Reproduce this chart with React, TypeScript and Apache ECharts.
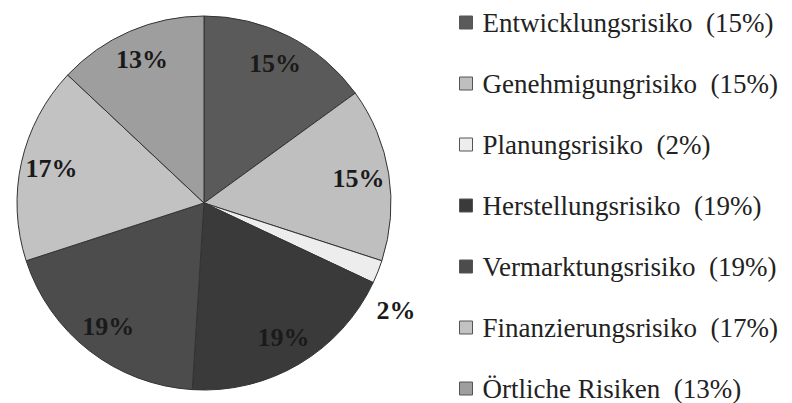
import React, { useEffect, useRef } from "react";
import * as echarts from "echarts";

const categories = [
  "Entwicklungsrisiko",
  "Genehmigungrisiko",
  "Planungsrisiko",
  "Herstellungsrisiko",
  "Vermarktungsrisiko",
  "Finanzierungsrisiko",
  "Örtliche Risiken",
];
const values = [15, 15, 2, 19, 19, 17, 13];
const colors = ["#5a5a5a", "#bfbfbf", "#ededed", "#3a3a3a", "#4c4c4c", "#c2c2c2", "#9e9e9e"];

export default function App() {
  const ref = useRef<HTMLDivElement>(null);
  useEffect(() => {
    if (!ref.current) return;
    const chart = echarts.init(ref.current, undefined, { renderer: "svg" });
    const font = "Liberation Serif";
    const R = 187;
    chart.setOption({
      animation: false,
      backgroundColor: "#ffffff",
      textStyle: { fontFamily: font },
      legend: {
        orient: "vertical",
        left: 459,
        top: 9,
        height: 400,
        padding: 0,
        itemWidth: 13,
        itemHeight: 13,
        itemGap: 34,
        icon: "rect",
        selectedMode: false,
        data: categories,
        itemStyle: { borderColor: "#555", borderWidth: 1 },
        textStyle: {
          fontFamily: font,
          fontSize: 27,
          color: "#222",
          padding: [0, 0, 0, 5],
        },
        formatter: (name: string) => {
          const i = categories.indexOf(name);
          return `${name}  (${values[i]}%)`;
        },
      },
      series: [
        {
          type: "pie",
          center: [204, 203],
          radius: [0, R],
          startAngle: 90,
          clockwise: true,
          silent: true,
          label: { show: false },
          labelLine: { show: false },
          itemStyle: { borderColor: "#333", borderWidth: 1 },
          data: categories.map((n, i) => ({ name: n, value: values[i], itemStyle: { color: colors[i] } })),
        },
        {
          type: "pie",
          center: [204, 203],
          radius: [R * 0.64, R],
          startAngle: 90,
          clockwise: true,
          silent: true,
          itemStyle: { color: "rgba(0,0,0,0)", borderWidth: 0 },
          label: {
            show: true,
            position: "inside",
            formatter: "{c}%",
            fontFamily: font,
            fontWeight: "bold",
            fontSize: 26,
            color: "#1a1a1a",
          },
          labelLine: { show: false, length: 6, length2: 0 },
          labelLayout: (p: any) => (p.dataIndex === 2 ? { dx: -12, dy: 36 } : {}),
          data: categories.map((n, i) => ({
            name: n,
            value: values[i],
            label: i === 2 ? { position: "outside" } : undefined,
          })),
        },
      ],
    });
    return () => chart.dispose();
  }, []);
  return <div ref={ref} style={{ width: 792, height: 403, position: "absolute", left: 0, top: 0 }} />;
}
